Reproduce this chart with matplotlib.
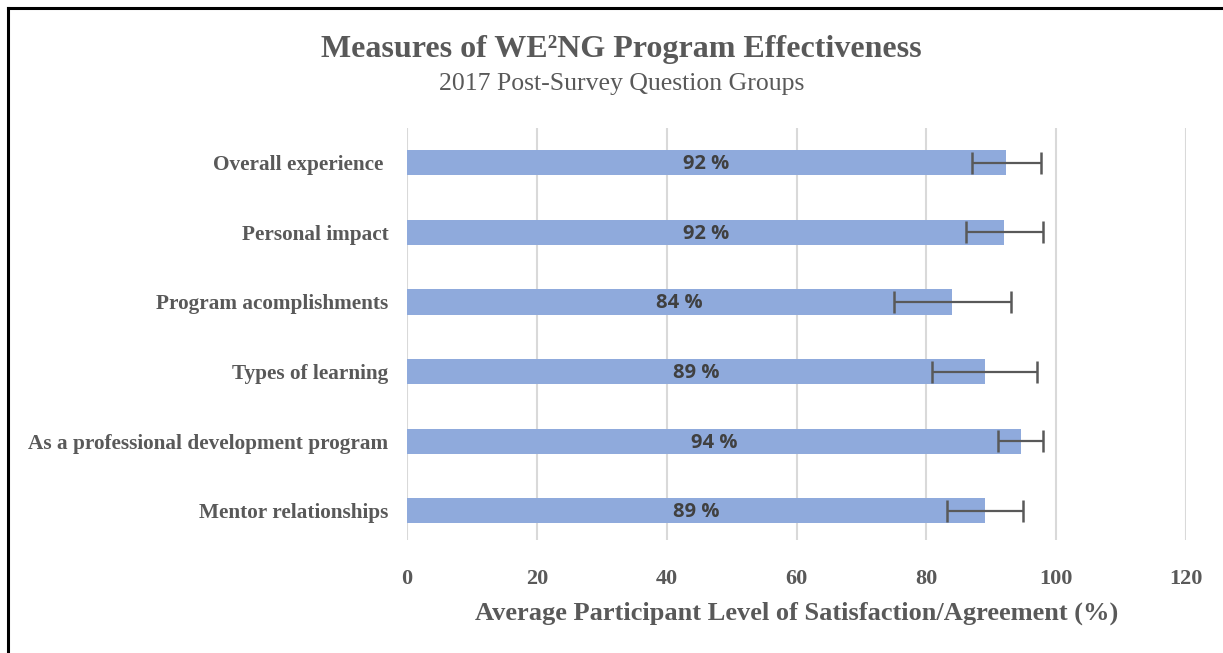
import matplotlib.pyplot as plt
from matplotlib.lines import Line2D

# Data
categories = [
    "Overall experience ",
    "Personal impact",
    "Program acomplishments",
    "Types of learning",
    "As a professional development program",
    "Mentor relationships",
]
values = [92.3, 92.0, 84.0, 89.0, 94.5, 89.0]
errors = [5.3, 5.9, 9.0, 8.1, 3.4, 5.9]
labels = ["92 %", "92 %", "84 %", "89 %", "94 %", "89 %"]
xticks = [0, 20, 40, 60, 80, 100, 120]

gray = "#595959"
bar_color = "#8FAADC"
serif = ["Liberation Serif", "DejaVu Serif"]

fig = plt.figure(figsize=(12.23, 6.53), dpi=100)
ax = fig.add_axes([0.3328, 0.173, 0.637, 0.631])

y = list(range(len(categories)))
ax.barh(y, values, height=0.36, color=bar_color, zorder=2)
ax.errorbar(values, y, xerr=errors, fmt="none", ecolor=gray,
            elinewidth=1.6, capsize=8, capthick=1.8, zorder=3)

for yi, v, lab in zip(y, values, labels):
    ax.text(v / 2, yi + 0.02, lab, ha="center", va="center", fontsize=14.5,
            fontweight="bold", color="#404040", family="Open Sans", zorder=4)

ax.set_xlim(0, 120)
ax.set_ylim(5.42, -0.5)
ax.set_xticks(xticks)
ax.set_xticklabels([str(t) for t in xticks], family=serif, fontsize=16,
                   fontweight="bold", color=gray)
ax.set_yticks(y)
ax.set_yticklabels(categories, family=serif, fontsize=15.3,
                   fontweight="bold", color=gray)
ax.tick_params(axis="both", length=0)
ax.tick_params(axis="x", pad=21)
ax.tick_params(axis="y", pad=13.5)

ax.grid(axis="x", color="#D9D9D9", linewidth=1.5, zorder=0)
for s in ax.spines.values():
    s.set_visible(False)

ax.set_xlabel("Average Participant Level of Satisfaction/Agreement (%)",
              family=serif, fontsize=19, fontweight="bold", color=gray,
              labelpad=9)

fig.text(0.508, 0.924, "Measures of WE²NG Program Effectiveness",
         ha="center", va="center", family=serif, fontsize=23,
         fontweight="bold", color=gray)
fig.text(0.508, 0.871, "2017 Post-Survey Question Groups",
         ha="center", va="center", family=serif, fontsize=18.5, color=gray)

# outer frame: left and top edges only, as in the source image
fig.add_artist(Line2D([0.0069, 0.0069], [0.0, 0.988], transform=fig.transFigure,
                      color="black", linewidth=2.2))
fig.add_artist(Line2D([0.0069, 1.0], [0.988, 0.988], transform=fig.transFigure,
                      color="black", linewidth=2.2))

fig.savefig("out.png", dpi=100)
